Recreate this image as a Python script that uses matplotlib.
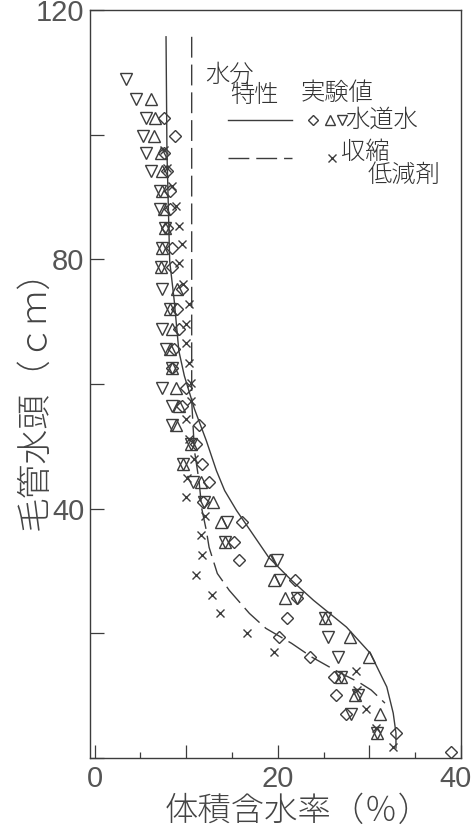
import matplotlib.pyplot as plt
from matplotlib.lines import Line2D
from matplotlib.ticker import MultipleLocator
from matplotlib.transforms import ScaledTranslation

JP = ["Noto Sans CJK JP", "DejaVu Sans"]
INK = "#3c3c3c"

# 水分特性 (体積含水率 %, 毛管水頭 cm)
tap_curve_x = [7.8, 7.9, 8.2, 8.7, 9.2, 9.8, 10.9, 12.2, 13.3, 14.2, 15.5, 17.0,
               19.0, 21.5, 23.9, 27.5, 30.1, 31.9, 32.6, 32.9, 32.9]
tap_curve_y = [115.7, 97.3, 79.7, 73.3, 65.3, 61.3, 56.0, 50.9, 46.1, 42.9, 39.7, 36.5,
               32.2, 28.5, 25.3, 21.0, 16.8, 11.4, 7.2, 4.0, 1.6]
red_curve_x = [10.6, 10.6, 10.9, 11.4, 11.7, 12.2, 12.5, 13.4, 14.7, 16.9, 18.7,
               21.5, 23.7, 26.6, 28.8, 30.2, 31.7]
red_curve_y = [115.7, 57.3, 49.3, 44.5, 40.0, 36.5, 33.8, 29.6, 26.9, 23.2, 20.8,
               18.4, 16.2, 13.8, 12.2, 10.9, 8.8]

# 実験値 水道水 (▽)
dn_x = [3.4, 4.5, 5.6, 5.3, 5.6, 6.2, 7.1, 7.1, 7.7, 7.4, 7.2, 7.4, 8.2, 7.4, 7.8,
        8.4, 7.4, 8.5, 8.4, 10.5, 9.6, 10.7, 11.9, 14.5, 14.2, 19.9, 20.2, 22.1,
        25.1, 25.5, 26.6, 26.9, 28.8, 28.0, 30.8]
dn_y = [109.0, 105.8, 102.7, 99.8, 97.0, 94.1, 90.9, 88.0, 85.0, 81.8, 78.7, 75.2,
        72.0, 68.8, 65.6, 62.6, 59.4, 56.5, 53.4, 50.4, 47.2, 44.2, 41.0, 37.8,
        34.7, 31.7, 28.6, 25.6, 22.4, 19.4, 16.2, 13.0, 10.1, 7.0, 4.0]
# 実験値 水道水 (△)
up_x = [6.2, 6.6, 6.5, 7.3, 7.4, 7.4, 7.6, 7.7, 7.4, 7.2, 9.0, 8.2, 8.4, 8.2, 8.4,
        8.9, 9.2, 8.9, 10.5, 9.6, 11.6, 12.9, 13.8, 14.2, 19.2, 19.6, 20.8, 25.1,
        27.9, 30.0, 26.9, 28.4, 31.2, 30.8]
up_y = [105.8, 102.7, 99.8, 97.0, 94.1, 90.9, 88.0, 85.0, 81.8, 78.7, 75.2, 72.0,
        68.8, 65.6, 62.6, 59.4, 56.5, 53.4, 50.4, 47.2, 44.2, 41.0, 37.8, 34.7,
        31.7, 28.6, 25.6, 22.4, 19.4, 16.2, 13.0, 10.1, 7.0, 4.0]
# 実験値 水道水 (◇)
dia_x = [7.6, 8.8, 7.6, 7.9, 8.2, 8.2, 7.9, 8.4, 8.4, 9.5, 9.0, 9.2, 8.7, 8.4, 10.0,
         9.5, 11.4, 11.1, 11.7, 12.5, 11.8, 16.1, 15.2, 15.8, 21.9, 22.1, 21.0,
         20.1, 23.5, 26.1, 26.4, 27.5, 32.9, 38.9]
dia_y = [102.7, 99.8, 97.0, 94.1, 90.9, 88.0, 85.0, 81.8, 78.7, 75.2, 72.0, 68.8,
         65.6, 62.6, 59.4, 56.5, 53.4, 50.4, 47.2, 44.2, 41.0, 37.8, 34.7, 31.7,
         28.6, 25.6, 22.4, 19.4, 16.2, 13.0, 10.1, 7.0, 4.0, 1.0]
# 実験値 収縮低減剤 (×)
cross_x = [7.6, 7.9, 8.5, 8.9, 9.2, 9.5, 9.2, 9.6, 10.3, 10.0, 10.0, 10.3, 10.5,
           10.5, 10.0, 10.3, 10.9, 10.1, 10.0, 12.0, 11.6, 11.7, 11.1, 12.8, 13.7,
           16.6, 19.6, 28.5, 28.6, 29.6, 30.7, 32.6]
cross_y = [97.6, 94.6, 91.7, 88.5, 85.4, 82.4, 79.4, 76.0, 72.8, 69.6, 66.6, 63.4,
           60.2, 57.3, 54.4, 51.2, 48.0, 45.0, 41.9, 38.9, 35.7, 32.5, 29.4, 26.2,
           23.2, 20.0, 17.0, 13.9, 10.9, 7.8, 4.8, 1.8]

x_ticks = [0, 10, 20, 30, 40]
x_labels = ["0", "", "20", "", "40"]
y_ticks = [0, 20, 40, 60, 80, 100, 120]
y_labels = ["", "", "40", "", "80", "", "120"]

fig = plt.figure(figsize=(4.75, 8.39), dpi=100)
ax = fig.add_axes([90 / 475, 1 - 758 / 839, 371 / 475, 748 / 839])

ax.plot(tap_curve_x, tap_curve_y, color=INK, lw=1.0)
ax.plot(red_curve_x, red_curve_y, color=INK, lw=1.0, dashes=(15, 5))

mk = dict(linestyle="none", mfc="none", mec=INK, mew=1.0)
ax.plot(dn_x, dn_y, marker="v", ms=8, **mk)
ax.plot(up_x, up_y, marker="^", ms=8, **mk)
ax.plot(dia_x, dia_y, marker="D", ms=6.5, **mk)
ax.plot(cross_x, cross_y, marker="x", ms=6, **mk)

ax.set_xlim(-0.5, 40)
ax.set_ylim(0, 120)
ax.set_xticks(x_ticks)
ax.set_xticklabels(x_labels)
ax.xaxis.set_minor_locator(MultipleLocator(5))
ax.set_yticks(y_ticks)
ax.set_yticklabels(y_labels)
ax.tick_params(axis="x", which="major", direction="in", length=9.5, width=0.9,
               color=INK, pad=5, labelsize=21, labelcolor="#555555")
ax.tick_params(axis="x", which="minor", direction="in", length=4.5, width=0.9, color=INK)
ax.tick_params(axis="y", which="major", direction="in", length=10, width=0.9,
               color=INK, pad=4, labelsize=21, labelcolor="#555555")
for lab in ax.get_xticklabels() + ax.get_yticklabels():
    lab.set_family(["Liberation Sans", "DejaVu Sans"])
# "40" sits at the right edge of the figure, nudge it inward a little
last = ax.xaxis.get_major_ticks()[-1].label1
last.set_transform(last.get_transform() + ScaledTranslation(-5 / 100, 0, fig.dpi_scale_trans))
for sp in ax.spines.values():
    sp.set_color(INK)
    sp.set_linewidth(1.0)

ax.set_xlabel("体積含水率（％）", family=JP, fontsize=24, color="#444444", weight="light")
ax.set_ylabel("毛管水頭（ｃｍ）", family=JP, fontsize=25, color="#444444", weight="light")
ax.xaxis.set_label_coords(0.56, -0.049)
ax.yaxis.set_label_coords(-0.10, 0.49)

# 凡例
tk = dict(transform=ax.transAxes, family=JP, fontsize=17.5, color="#333333",
          weight="light", va="center", ha="left")
ax.text(0.31, 0.913, "水分", **tk)
ax.text(0.378, 0.886, "特性", **tk)
ax.text(0.568, 0.889, "実験値", **tk)
ax.text(0.688, 0.853, "水道水", **tk)
ax.text(0.676, 0.809, "収縮", **tk)
ax.text(0.748, 0.779, "低減剤", **tk)
ax.add_line(Line2D([0.372, 0.544], [0.853, 0.853], transform=ax.transAxes,
                   color=INK, lw=1.0))
ax.add_line(Line2D([0.372, 0.544], [0.802, 0.802], transform=ax.transAxes,
                   color=INK, lw=1.0, dashes=(15, 5)))
ax.plot([0.601], [0.853], marker="D", ms=5.2, transform=ax.transAxes, **mk)
ax.plot([0.647], [0.853], marker="^", ms=7, transform=ax.transAxes, **mk)
ax.plot([0.679], [0.853], marker="v", ms=7, transform=ax.transAxes, **mk)
ax.plot([0.652], [0.802], marker="x", ms=5.5, transform=ax.transAxes, **mk)

fig.savefig("out.png", dpi=100)
